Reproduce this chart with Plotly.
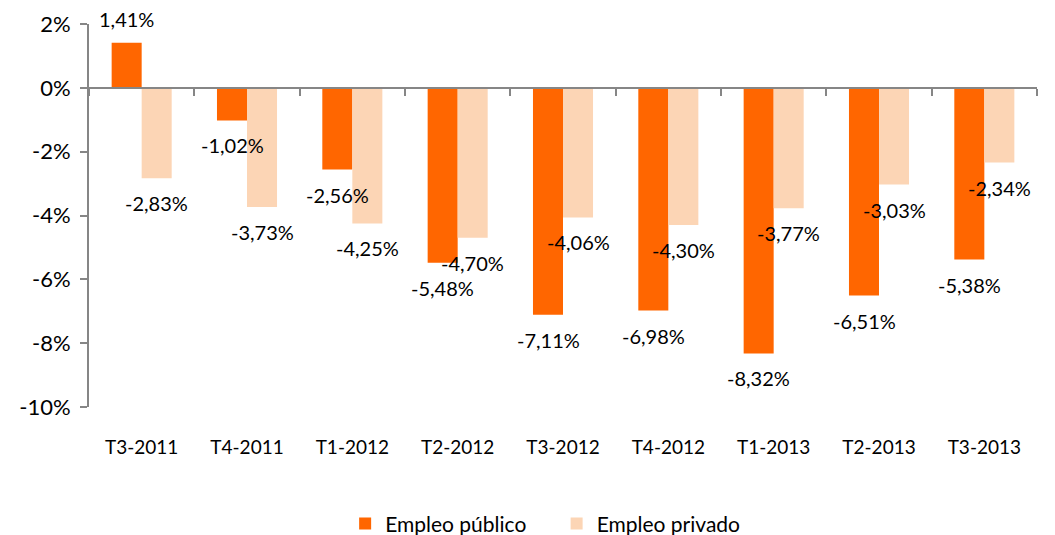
import plotly.graph_objects as go

categories = ["T3-2011", "T4-2011", "T1-2012", "T2-2012", "T3-2012",
              "T4-2012", "T1-2013", "T2-2013", "T3-2013"]
publico = [1.41, -1.02, -2.56, -5.48, -7.11, -6.98, -8.32, -6.51, -5.38]
privado = [-2.83, -3.73, -4.25, -4.70, -4.06, -4.30, -3.77, -3.03, -2.34]
y_ticks = [2, 0, -2, -4, -6, -8, -10]
y_ticktext = ["2%", "0%", "-2%", "-4%", "-6%", "-8%", "-10%"]

PUB_COLOR = "#FF6600"
PRI_COLOR = "#FCD5B5"
AXIS_COLOR = "#868686"
FONT = "Lato"

def fmt(v):
    return f"{v:.2f}".replace(".", ",") + "%"

fig = go.Figure()
fig.add_trace(go.Bar(x=categories, y=publico, name="Empleo público",
                     legend="legend",
                     marker=dict(color=PUB_COLOR, line=dict(width=0))))
fig.add_trace(go.Bar(x=categories, y=privado, name="Empleo privado",
                     legend="legend2",
                     marker=dict(color=PRI_COLOR, line=dict(width=0))))
# invisible trace to carry the zero-line category axis
fig.add_trace(go.Bar(x=categories, y=[0] * len(categories), xaxis="x2",
                     showlegend=False, hoverinfo="skip", opacity=0))

annotations = []
for series, dx in ((publico, -15), (privado, 15)):
    for c, v in zip(categories, series):
        annotations.append(dict(
            x=c, y=v, xref="x", yref="y", text=fmt(v), showarrow=False,
            xshift=dx, yshift=24 if v > 0 else -25,
            font=dict(family=FONT, size=20, color="#000000"),
            xanchor="center", yanchor="middle"))

ymin, ymax = -10, 2
zero_pos = (0 - ymin) / (ymax - ymin)

legend_common = dict(orientation="h", xref="container", yref="container",
                     xanchor="left", y=0.021, yanchor="middle",
                     font=dict(family=FONT, size=21), itemwidth=30,
                     bgcolor="rgba(0,0,0,0)")

# the page adds an 8px body margin, so the figure is sized to fit inside it
fig.update_layout(
    width=1047, height=527,
    margin=dict(l=81, r=18, t=16, b=128),
    paper_bgcolor="white", plot_bgcolor="white",
    barmode="group", bargap=0.43, bargroupgap=0,
    font=dict(family=FONT, size=19, color="#000000"),
    xaxis=dict(showline=False, showgrid=False, ticks="", automargin=False,
               tickfont=dict(family=FONT, size=19),
               ticklabelstandoff=27, zeroline=False),
    xaxis2=dict(overlaying="x", matches="x", anchor="free", position=zero_pos,
                showline=True, linecolor=AXIS_COLOR, linewidth=2,
                ticks="outside", ticklen=7, tickcolor=AXIS_COLOR, tickwidth=2,
                tickson="boundaries", showticklabels=False, showgrid=False,
                zeroline=False, automargin=False),
    yaxis=dict(range=[ymin, ymax], tickvals=y_ticks, ticktext=y_ticktext,
               showline=True, linecolor=AXIS_COLOR, linewidth=2,
               ticks="outside", ticklen=7, tickcolor=AXIS_COLOR, tickwidth=2,
               showgrid=False, zeroline=False, automargin=False,
               tickfont=dict(family=FONT, size=22), ticklabelstandoff=5),
    legend=dict(x=0.322, **legend_common),
    legend2=dict(x=0.524, **legend_common),
    annotations=annotations,
    showlegend=True,
)

fig.write_html("out.html")
